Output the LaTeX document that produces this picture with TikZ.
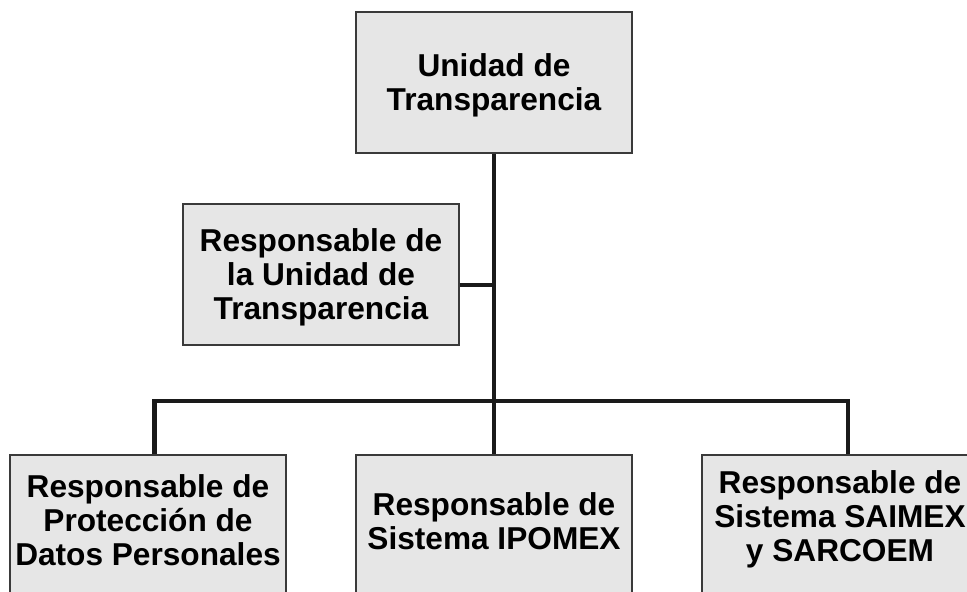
\documentclass[tikz,border=0pt]{standalone}
\usepackage{fontspec}
\setmainfont{Liberation Sans}
\usepackage{xcolor}
\usepackage{tikz}
\usetikzlibrary{positioning}
\definecolor{boxfill}{HTML}{E6E6E6}
\definecolor{boxline}{HTML}{3A3A3A}
\definecolor{linkblack}{HTML}{1A1A1A}

\begin{document}
\begin{tikzpicture}[x=0.03cm, y=-0.03cm]
    \tikzset{
        unitbox/.style={rectangle, draw=boxline, fill=boxfill, line width=1.2pt,
            minimum width=8.28cm, minimum height=4.23cm, align=center, inner sep=0pt,
            font=\fontsize{27}{29}\selectfont\bfseries},
        link/.style={linkblack, line width=4.2pt}
    }
    \fill[white] (0,0) rectangle (967,592);
    \useasboundingbox (0,0) rectangle (967,592);

    \begin{scope}
    \clip (0,0) rectangle (967,592);
    \node[unitbox, text depth=-1.5pt] (unidad) at (494,82.5) {Unidad de\\Transparencia};
    \node[unitbox, text depth=0pt] (resp) at (321,274.5) {Responsable de\\la Unidad de\\Transparencia};
    \node[unitbox, text depth=10pt] (datos) at (148,525.5) {Responsable de\\Protección de\\Datos Personales};
    \node[unitbox, text depth=8pt] (ipomex) at (494,525.5) {Responsable de\\Sistema IPOMEX};
    \node[unitbox, text depth=16pt] (saimex) at (840,525.5) {Responsable de\\Sistema SAIMEX\\y SARCOEM};

    \coordinate (jn) at (494,285);
    \coordinate (bar) at (494,401);

    \draw[link] (unidad.south) -- (ipomex.north);
    \draw[link] (resp.east |- jn) -- (jn);
    \draw[link] ([xshift=6.5*0.03cm]datos.north) |- (bar) -| ([xshift=8*0.03cm]saimex.north);
    \end{scope}
\end{tikzpicture}
\end{document}
